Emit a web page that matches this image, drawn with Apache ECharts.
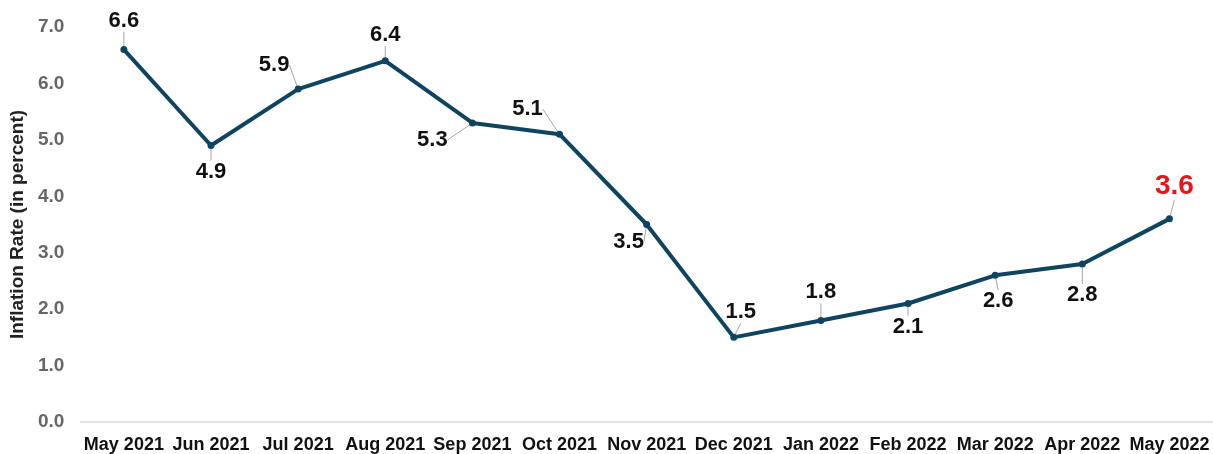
<!DOCTYPE html>
<html>
<head>
<meta charset="utf-8">
<script src="https://cdn.jsdelivr.net/npm/echarts@6/dist/echarts.min.js"></script>
<style>
    html, body { margin: 0; padding: 0; background: #fff; }
    #chart { width: 1213px; height: 454px; }
</style>
</head>
<body>
<div id="chart"></div>
<script>
// inflation rate, May 2021 - May 2022
const months = [
    'May 2021', 'Jun 2021', 'Jul 2021', 'Aug 2021', 'Sep 2021', 'Oct 2021', 'Nov 2021',
    'Dec 2021', 'Jan 2022', 'Feb 2022', 'Mar 2022', 'Apr 2022', 'May 2022'
];
const inflation = [6.6, 4.9, 5.9, 6.4, 5.3, 5.1, 3.5, 1.5, 1.8, 2.1, 2.6, 2.8, 3.6];

// where each data label sits relative to its point (px)
const labelShift = [
    [0, -29], [0, 26], [-24, -24], [0, -26], [-40, 17], [-32, -25], [-18, 17],
    [7, -25], [0, -28], [0, 23], [3, 26], [0, 31], [5, -33]
];

const lineColor = '#0f4461';
const font = '"Liberation Sans", Arial, sans-serif';

const chart = echarts.init(document.getElementById('chart'));

const seriesData = inflation.map((v, i) => {
    const item = { value: v };
    if (i === inflation.length - 1) {
        item.label = { color: '#e8151b', fontSize: 28 };
    }
    return item;
});

const option = {
    animation: false,
    backgroundColor: '#fff',
    textStyle: { fontFamily: font },
    grid: { left: 77, right: 0, top: 27, bottom: 31 },
    xAxis: {
        type: 'category',
        data: months,
        boundaryGap: true,
        axisLine: { lineStyle: { color: '#d9d9d9', width: 1.5 } },
        axisTick: { show: false },
        axisLabel: {
            color: '#111',
            fontWeight: 'bold',
            fontSize: 18,
            fontFamily: font,
            margin: 14,
            interval: 0
        }
    },
    yAxis: {
        type: 'value',
        min: 0,
        max: 7,
        interval: 1,
        name: 'Inflation Rate (in percent)',
        nameLocation: 'middle',
        nameGap: 50,
        nameTextStyle: {
            color: '#222',
            fontWeight: 'bold',
            fontSize: 19,
            fontFamily: font
        },
        axisLine: { show: false },
        axisTick: { show: false },
        splitLine: { show: false },
        axisLabel: {
            color: '#666',
            fontWeight: 'bold',
            fontSize: 19,
            fontFamily: font,
            margin: 16,
            formatter: v => v.toFixed(1)
        }
    },
    series: [
        {
            type: 'line',
            data: seriesData,
            symbol: 'circle',
            symbolSize: 7,
            lineStyle: { color: lineColor, width: 4 },
            itemStyle: { color: lineColor },
            label: {
                show: true,
                position: 'inside',
                color: '#111',
                fontWeight: 'bold',
                fontSize: 22,
                fontFamily: font,
                formatter: p => p.value.toFixed(1)
            },
            labelLine: {
                show: true,
                lineStyle: { color: '#a6a6a6', width: 1 }
            },
            labelLayout: p => ({
                dx: labelShift[p.dataIndex][0],
                dy: labelShift[p.dataIndex][1]
            })
        }
    ]
};

chart.setOption(option);
</script>
</body>
</html>
